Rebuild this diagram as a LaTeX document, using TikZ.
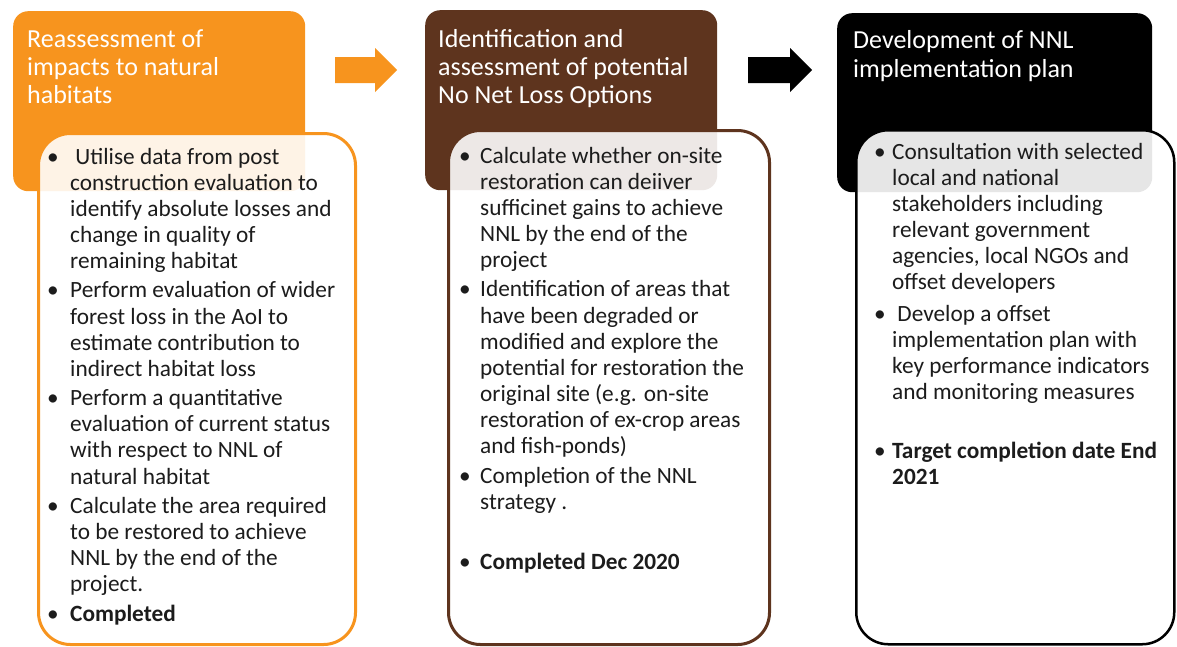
\documentclass[tikz,border=0pt]{standalone}
\usepackage{fontspec}
\setmainfont{Carlito}
\definecolor{orng}{RGB}{247,148,30}
\definecolor{brwn}{RGB}{94,52,30}
\definecolor{txtc}{RGB}{28,28,28}
\begin{document}
\begin{tikzpicture}[x=1pt,y=-1pt,
  hdr/.style={rounded corners=15, inner sep=0, anchor=north west, draw=none},
  inbox/.style={rounded corners=32, inner sep=0, anchor=north west, fill=white,
    fill opacity=0.89, line width=3},
  ttl/.style={anchor=base west, align=left, inner sep=0, text=white,
    font=\fontsize{26}{28}\selectfont},
  body/.style={anchor=base west, align=left, inner sep=0, text=txtc,
    font=\fontsize{23.3}{26.1}\selectfont},
  bul/.style={anchor=base, inner sep=0, text=txtc,
    font=\fontsize{23.3}{26.1}\selectfont}
]
\useasboundingbox (0,0) rectangle (1177,646);

% headers
\node[hdr, fill=orng, minimum width=292, minimum height=180] (h1) at (13,11) {};
\node[hdr, fill=brwn, minimum width=292, minimum height=180] (h2) at (425,10) {};
\node[hdr, fill=black, minimum width=315, minimum height=179] (h3) at (837,13) {};

% (multi-line nodes: base anchor = baseline of the last line)
\node[ttl] (t1) at (27,103) {Reassessment of\\impacts to natural\\habitats};
\node[ttl] (t2) at (438,103) {Identification and\\assessment of potential\\No Net Loss Options};
\node[ttl, font=\fontsize{26}{29}\selectfont] (t3) at (853,77) {Development of NNL\\implementation plan};

% block arrows
\fill[orng] (335,57) -- (375,57) -- (375,48) -- (397,70) -- (375,92) -- (375,83) -- (335,83) -- cycle;
\fill[black] (748,57) -- (790,57) -- (790,48) -- (812,70) -- (790,92) -- (790,83) -- (748,83) -- cycle;

% inner boxes
\node[inbox, draw=orng, minimum width=317, minimum height=511] (b1) at (37,132) {};
\node[inbox, draw=brwn, minimum width=321, minimum height=514] (b2) at (447,129) {};
\node[inbox, draw=black, line width=2.5, fill opacity=0.9, minimum width=318, minimum height=514] (b3) at (855,129) {};

% box 1 items
\node[bul] (b1ab) at (53,164) {\textbullet};
\node[body] (b1a) at (70,268.4) {\ Utilise data from post\\construction evaluation to\\identify absolute losses and\\change in quality of\\remaining habitat};
\node[bul] (b1bb) at (53,297.9) {\textbullet};
\node[body] (b1b) at (70,376.2) {Perform evaluation of wider\\forest loss in the AoI to\\estimate contribution to\\indirect habitat loss};
\node[bul] (b1cb) at (53,405.7) {\textbullet};
\node[body] (b1c) at (70,484) {Perform a quantitative\\evaluation of current status\\with respect to NNL of\\natural habitat};
\node[bul] (b1db) at (53,513.5) {\textbullet};
\node[body] (b1d) at (70,591.8) {Calculate the area required\\to be restored to achieve\\NNL by the end of the\\project.};
\node[bul] (b1eb) at (53,621.3) {\textbullet};
\node[body] (b1e) at (70,621.3) {\bfseries Completed};

% box 2 items
\node[bul] (b2ab) at (465,163) {\textbullet};
\node[body] (b2a) at (480,267.4) {Calculate whether on-site\\restoration can deiiver\\sufficinet gains to achieve\\NNL by the end of the\\project};
\node[bul] (b2bb) at (465,296.9) {\textbullet};
\node[body] (b2b) at (480,453.5) {Identification of areas that\\have been degraded or\\modified and explore the\\potential for restoration the\\original site (e.g. on-site\\restoration of ex-crop areas\\and fish-ponds)};
\node[bul] (b2cb) at (465,483) {\textbullet};
\node[body] (b2c) at (480,509.1) {Completion of the NNL\\strategy .};
\node[bul] (b2db) at (465,569) {\textbullet};
\node[body] (b2d) at (480,569) {\bfseries Completed Dec 2020};

% box 3 items
\node[bul] (b3ab) at (880,159) {\textbullet};
\node[body] (b3a) at (892,289.5) {Consultation with selected\\local and national\\stakeholders including\\relevant government\\agencies, local NGOs and\\offset developers};
\node[bul] (b3bb) at (880,321) {\textbullet};
\node[body] (b3b) at (892,399.3) {\ Develop a offset\\implementation plan with\\key performance indicators\\and monitoring measures};
\node[bul] (b3cb) at (880,458) {\textbullet};
\node[body] (b3c) at (892,484.1) {\bfseries Target completion date End\\\bfseries 2021};
\end{tikzpicture}
\end{document}
